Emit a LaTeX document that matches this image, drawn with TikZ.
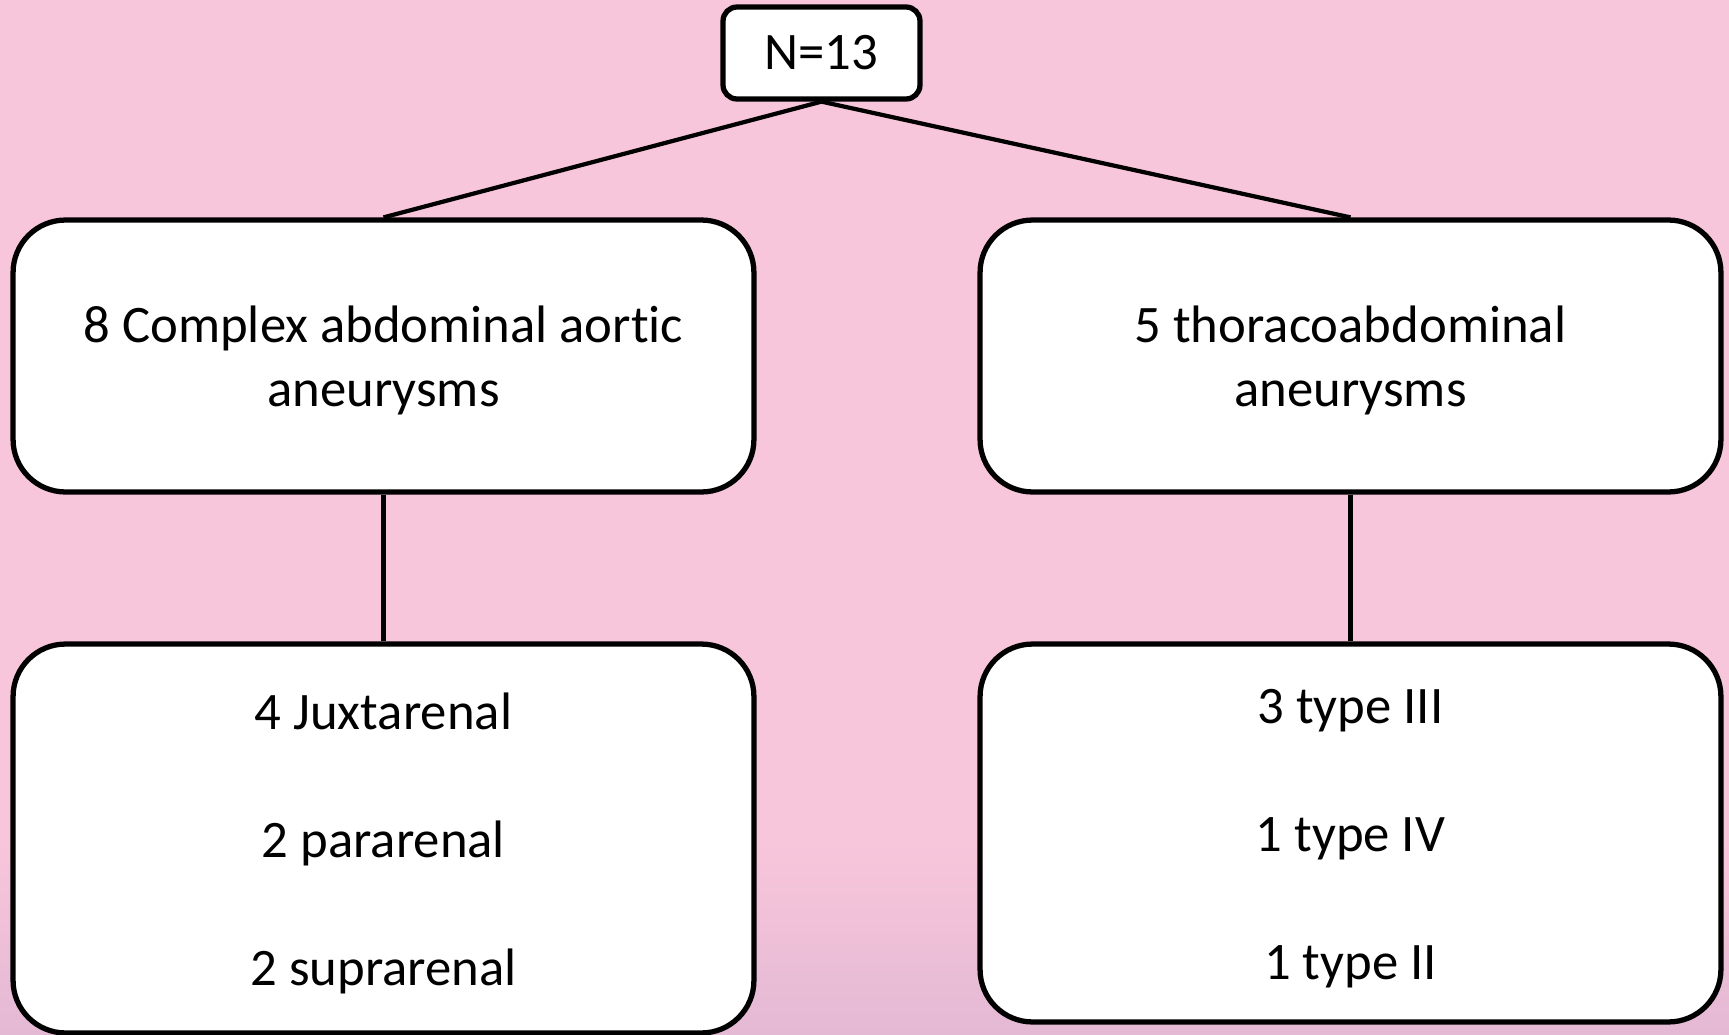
\documentclass[tikz,border=0pt]{standalone}
\usepackage{fontspec}
\setmainfont{Carlito}[Ligatures=NoCommon]
\definecolor{bgpink}{RGB}{248,198,219}
\definecolor{bgmauve}{RGB}{228,185,212}
\newcommand{\boxtext}[1]{\raisebox{-0.12cm}[\height][\depth]{%
  \begin{tabular}{@{}c@{}}#1\end{tabular}}}

\begin{document}
\begin{tikzpicture}[x=0.02cm, y=-0.02cm,
  box/.style={draw, line width=3pt, fill=white, rounded corners=1.05cm,
    align=center, inner sep=0pt, minimum width=14.82cm,
    font=\fontsize{30}{36.4}\selectfont},
  link/.style={line width=2.4pt}]
  \useasboundingbox (0,0) rectangle (1729,1035);
  \fill[bgpink] (0,0) rectangle (1729,1035);
  \shade[top color=bgpink, bottom color=bgmauve] (0,840) rectangle (1729,1035);

  \node[box, rounded corners=0.28cm, minimum width=3.94cm, minimum height=1.84cm]
    (total) at (821.5,53) {N=13};
  \node[box, minimum height=5.44cm] (abd) at (383.5,356)
    {\boxtext{8 Complex abdominal aortic\\aneurysms}};
  \node[box, minimum height=5.44cm] (thor) at (1350.5,356)
    {\boxtext{5 thoracoabdominal\\aneurysms}};
  \node[box, minimum height=7.78cm] (abdtypes) at (383.5,838.5)
    {\boxtext{4 Juxtarenal\\[36.4pt]2 pararenal\\[36.4pt]2 suprarenal}};
  \node[box, minimum height=7.56cm] (thortypes) at (1350.5,833)
    {\boxtext{3 type III\\[36.4pt]1 type IV\\[36.4pt]1 type II}};

  \draw[link] (total.south) -- (abd.north);
  \draw[link] (total.south) -- (thor.north);
  \draw[link] (abd.south) -- (abdtypes.north);
  \draw[link] (thor.south) -- (thortypes.north);
\end{tikzpicture}
\end{document}
